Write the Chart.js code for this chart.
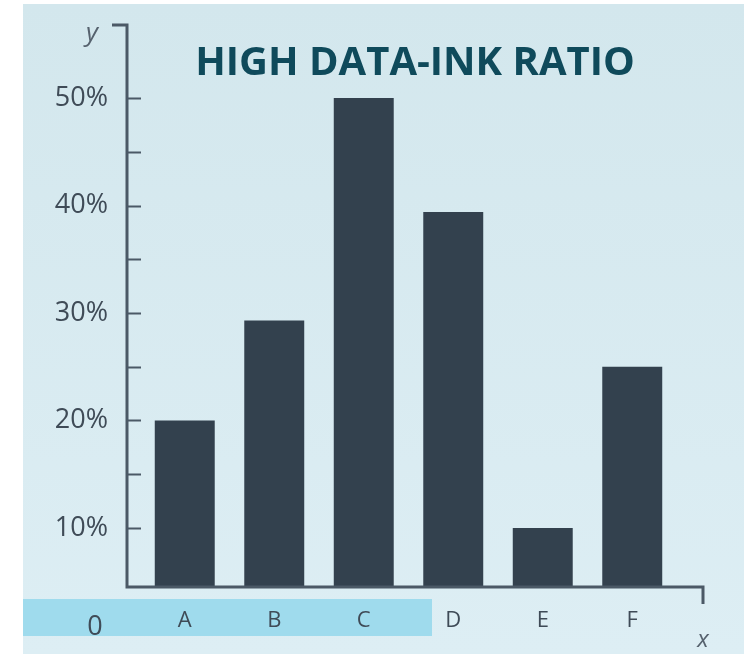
<!DOCTYPE html>
<html>
<head>
<meta charset="utf-8">
<style>
  html, body { margin: 0; padding: 0; background: #ffffff; }
  #wrap { width: 753px; height: 654px; }
</style>
<script src="https://cdn.jsdelivr.net/npm/chart.js@4/dist/chart.umd.min.js"></script>
</head>
<body>
<div id="wrap"><canvas id="chart"></canvas></div>
<script>
  'use strict';

  // data
  var categories = ['A', 'B', 'C', 'D', 'E', 'F'];
  var shares = [20, 29.3, 50, 39.4, 10, 25];
  var yTickValues = [10, 15, 20, 25, 30, 35, 40, 45, 50];
  var chartTitle = 'HIGH DATA-INK RATIO';

  var inkColor = '#4b5966';
  var labelColor = '#3f4b57';

  // background panel, axis band, arrows, title and ticks
  var decorPlugin = {
    id: 'decor',
    beforeDraw: function (chart) {
      var ctx = chart.ctx;
      ctx.save();
      var grad = ctx.createLinearGradient(0, 4, 0, 654);
      grad.addColorStop(0, '#d3e7ed');
      grad.addColorStop(1, '#ddeef4');
      ctx.fillStyle = grad;
      ctx.fillRect(23, 4, 721, 650);

      // cyan band behind the first labels
      ctx.fillStyle = '#9fdbed';
      ctx.fillRect(23, 599, 409, 37);
      ctx.restore();
    },
    afterDraw: function (chart) {
      var ctx = chart.ctx;
      var yScale = chart.scales.y;
      var xScale = chart.scales.x;
      var left = 127;
      var bottom = xScale.top;

      ctx.save();
      ctx.strokeStyle = inkColor;
      ctx.lineWidth = 3;
      ctx.lineCap = 'butt';

      // axes with small hooks at the ends
      ctx.beginPath();
      ctx.moveTo(112, 25);
      ctx.lineTo(left, 25);
      ctx.lineTo(left, bottom);
      ctx.lineTo(703, bottom);
      ctx.lineTo(703, 604);
      ctx.stroke();

      // tick marks inside
      ctx.lineWidth = 2;
      yTickValues.forEach(function (v) {
        var py = Math.round(yScale.getPixelForValue(v)) + 0.5;
        ctx.beginPath();
        ctx.moveTo(left, py);
        ctx.lineTo(141, py);
        ctx.stroke();
      });

      // title
      ctx.fillStyle = '#0f4a5b';
      ctx.font = 'bold 40px "Open Sans"';
      ctx.textAlign = 'center';
      ctx.textBaseline = 'alphabetic';
      ctx.fillText(chartTitle, 415, 75);

      // axis names
      ctx.fillStyle = '#56626e';
      ctx.font = 'italic 26px "Open Sans"';
      ctx.fillText('y', 92, 41);
      ctx.font = 'italic 24px "Open Sans"';
      ctx.fillText('x', 703, 647);

      // origin label
      ctx.fillStyle = labelColor;
      ctx.font = '27px "Open Sans"';
      ctx.textBaseline = 'middle';
      ctx.fillText('0', 95, 627);
      ctx.restore();
    }
  };

  var ctx = document.getElementById('chart').getContext('2d');
  window.dataInkChart = new Chart(ctx, {
    type: 'bar',
    data: {
      labels: categories,
      datasets: [{
        data: shares,
        backgroundColor: '#33414e',
        borderWidth: 0,
        barPercentage: 0.67,
        categoryPercentage: 1
      }]
    },
    options: {
      responsive: true,
      maintainAspectRatio: false,
      animation: false,
      layout: {
        padding: { left: 0, right: 76, top: 25, bottom: 24 }
      },
      plugins: {
        legend: { display: false },
        tooltip: { enabled: false }
      },
      scales: {
        x: {
          grid: { display: false, drawTicks: false },
          border: { display: false },
          ticks: {
            color: labelColor,
            padding: 21,
            font: { family: 'Open Sans', size: 22 }
          },
          afterFit: function (scale) {
            scale.height = 43;
            scale.paddingLeft = 0;
            scale.paddingRight = 0;
          }
        },
        y: {
          min: 4.5,
          max: 56.8,
          grid: { display: false, drawTicks: false },
          border: { display: false },
          afterBuildTicks: function (scale) {
            scale.ticks = yTickValues.map(function (v) { return { value: v }; });
          },
          ticks: {
            color: labelColor,
            padding: 32,
            autoSkip: false,
            font: { family: 'Open Sans', size: 27 },
            callback: function (value) {
              return value % 10 === 0 ? value + '%' : '';
            }
          },
          afterFit: function (scale) {
            scale.width = 140;
            scale.paddingTop = 0;
            scale.paddingBottom = 0;
          }
        }
      }
    },
    plugins: [decorPlugin]
  });
</script>
</body>
</html>
